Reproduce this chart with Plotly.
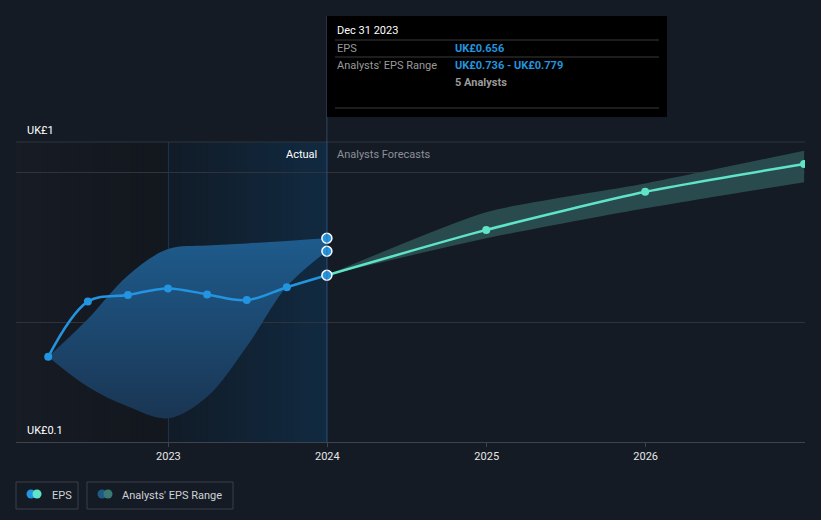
import numpy as np
import plotly.graph_objects as go

# ---------------- data ----------------
actual_dates = ["2022-03-31", "2022-06-30", "2022-09-30", "2022-12-31",
                "2023-03-31", "2023-06-30", "2023-09-30", "2023-12-31"]
actual_eps = [0.384, 0.568, 0.590, 0.612, 0.592, 0.573, 0.616, 0.656]
range_upper = [0.384, 0.510, 0.655, 0.743, 0.755, 0.762, 0.770, 0.779]
range_lower = [0.384, 0.284, 0.218, 0.179, 0.251, 0.418, 0.618, 0.736]

fc_dates = ["2023-12-31", "2024-12-31", "2025-12-31", "2026-12-31"]
fc_eps = [0.656, 0.807, 0.934, 1.027]
fc_upper = [0.656, 0.866, 0.962, 1.071]
fc_lower = [0.656, 0.779, 0.879, 0.966]

hover_date = "Dec 31 2023"
hover_eps = "UK£0.656"
hover_range = "UK£0.736 - UK£0.779"
hover_analysts = "5 Analysts"

y_labels = ["UK£1", "UK£0.1"]
x_tickvals = ["2023-01-01", "2024-01-01", "2025-01-01", "2026-01-01"]
x_ticktext = ["2023", "2024", "2025", "2026"]

# ---------------- style ----------------
W, H = 821, 520
ML, MR, MT, MB = 16, 16, 142, 78
PW, PH = W - ML - MR, H - MT - MB
BG = "#151b25"
BLUE = "#2394df"
MINT = "#5fe3c9"
GRID = "#2e343e"
FONT = "Roboto, 'Open Sans', sans-serif"


def px(x):
    return (x - ML) / PW


def py(y):
    return (H - MB - y) / PH


fig = go.Figure()

# analysts range (actual period)
fig.add_trace(go.Scatter(x=actual_dates, y=range_upper, mode="lines",
                         line=dict(width=0, shape="spline", smoothing=1.0),
                         hoverinfo="skip", showlegend=False))
fig.add_trace(go.Scatter(x=actual_dates, y=range_lower, mode="lines",
                         line=dict(width=0, shape="spline", smoothing=1.0),
                         fill="tonexty",
                         fillgradient=dict(type="vertical",
                                           colorscale=[[0, "#1a3553"], [1, "#1e5b8c"]]),
                         hoverinfo="skip", showlegend=False))
# analysts range (forecast)
fig.add_trace(go.Scatter(x=fc_dates, y=fc_upper, mode="lines",
                         line=dict(width=0, shape="spline", smoothing=0.6),
                         hoverinfo="skip", showlegend=False))
fig.add_trace(go.Scatter(x=fc_dates, y=fc_lower, mode="lines",
                         line=dict(width=0, shape="spline", smoothing=0.6),
                         fill="tonexty", fillcolor="#2a4b4d",
                         hoverinfo="skip", showlegend=False))

# EPS lines
fig.add_trace(go.Scatter(x=fc_dates, y=fc_eps, mode="lines+markers",
                         line=dict(color=MINT, width=2.5, shape="spline", smoothing=0.6),
                         marker=dict(color=MINT, size=8), showlegend=False))
fig.add_trace(go.Scatter(x=actual_dates, y=actual_eps, mode="lines+markers",
                         line=dict(color=BLUE, width=2.5, shape="spline", smoothing=1.0),
                         marker=dict(color=BLUE, size=8), showlegend=False))
# highlighted points at hover date
fig.add_trace(go.Scatter(x=[actual_dates[-1]] * 3,
                         y=[actual_eps[-1], range_lower[-1], range_upper[-1]],
                         mode="markers",
                         marker=dict(color=BLUE, size=10, line=dict(color="white", width=1.5)),
                         showlegend=False))

shapes = []
# background gradient strips
x0p, x1p, x2p = px(16), px(168), px(327)
n = 24
c_a = np.array([0x17, 0x1c, 0x25]); c_b = np.array([0x13, 0x17, 0x1e])
c_c = np.array([0x12, 0x1c, 0x28]); c_d = np.array([0x11, 0x2a, 0x41])
for i in range(n):
    t = i / (n - 1)
    c1 = (c_a + (c_b - c_a) * t).astype(int)
    c2 = (c_c + (c_d - c_c) * t).astype(int)
    shapes.append(dict(type="rect", xref="paper", yref="paper", layer="below",
                       x0=x0p + (x1p - x0p) * i / n, x1=x0p + (x1p - x0p) * (i + 1) / n + 0.001,
                       y0=0, y1=1, line=dict(width=0),
                       fillcolor="rgb(%d,%d,%d)" % tuple(c1)))
    shapes.append(dict(type="rect", xref="paper", yref="paper", layer="below",
                       x0=x1p + (x2p - x1p) * i / n, x1=x1p + (x2p - x1p) * (i + 1) / n + 0.001,
                       y0=0, y1=1, line=dict(width=0),
                       fillcolor="rgb(%d,%d,%d)" % tuple(c2)))

# top border gridline
shapes.append(dict(type="line", xref="paper", yref="paper", x0=0, x1=1, y0=1, y1=1,
                   line=dict(color=GRID, width=1), layer="below"))

# vertical markers
shapes.append(dict(type="line", xref="x", yref="paper", x0=x_tickvals[0], x1=x_tickvals[0],
                   y0=0, y1=1, line=dict(color="rgba(40,90,140,0.45)", width=1), layer="below"))
shapes.append(dict(type="line", xref="x", yref="paper", x0=actual_dates[-1], x1=actual_dates[-1],
                   y0=0, y1=py(16), line=dict(color="rgba(60,100,140,0.6)", width=1)))

# tooltip box
shapes.append(dict(type="rect", xref="paper", yref="paper",
                   x0=px(327), x1=px(667), y0=py(117), y1=py(16),
                   fillcolor="#000000", line=dict(width=0)))
for yy in (40, 57, 108):
    shapes.append(dict(type="line", xref="paper", yref="paper",
                       x0=px(335), x1=px(659), y0=py(yy), y1=py(yy),
                       line=dict(color="#3a3a3a", width=1)))

# legend boxes
for (a, b) in ((16, 78), (87, 233)):
    shapes.append(dict(type="rect", xref="paper", yref="paper",
                       x0=px(a), x1=px(b), y0=py(509), y1=py(482),
                       line=dict(color="#3a3f48", width=1), fillcolor=BG))
rx, ry = 4.5 / PW, 4.5 / PH
for cx, col in ((31, BLUE), (37, MINT), (102, "#1d5a88"), (108, "#3b7a74")):
    shapes.append(dict(type="circle", xref="paper", yref="paper",
                       x0=px(cx) - rx, x1=px(cx) + rx, y0=py(494) - ry, y1=py(494) + ry,
                       fillcolor=col, line=dict(width=0)))

ann = []


def text(x, y, s, color, size=11, anchor="left", bold=False):
    ann.append(dict(xref="paper", yref="paper", x=px(x), y=py(y), text=("<b>%s</b>" % s) if bold else s,
                    showarrow=False, xanchor=anchor, yanchor="middle",
                    font=dict(color=color, size=size, family=FONT)))


text(335, 31, hover_date, "#ffffff", 11)
text(335, 49, "EPS", "#9a9a9a")
text(453, 49, hover_eps, BLUE, bold=True)
text(335, 66, "Analysts' EPS Range", "#9a9a9a")
text(453, 66, hover_range, BLUE, bold=True)
text(453, 83, hover_analysts, "#9a9a9a", bold=True)

text(25, 130, y_labels[0], "#ffffff")
text(25, 430, y_labels[1], "#ffffff")
text(319, 154, "Actual", "#ffffff", anchor="right")
text(335, 154, "Analysts Forecasts", "#8c9098")

text(50, 495, "EPS", "#cfd2d6")
text(120, 495, "Analysts' EPS Range", "#cfd2d6")

fig.update_layout(
    width=W, height=H, margin=dict(l=ML, r=MR, t=MT, b=MB),
    paper_bgcolor=BG, plot_bgcolor=BG,
    shapes=shapes, annotations=ann, showlegend=False,
    font=dict(family=FONT, color="#e0e0e0", size=11),
    xaxis=dict(type="date", range=["2022-01-16", "2027-01-02"],
               tickvals=x_tickvals, ticktext=x_ticktext,
               showgrid=False, zeroline=False, showline=True, linecolor="#3e434c", linewidth=1,
               ticks="outside", ticklen=4, tickcolor="#3e434c",
               tickfont=dict(color="#e6e6e6", size=11, family=FONT)),
    yaxis=dict(range=[0.1, 1.1], tickvals=[0.5, 1.0], showticklabels=False,
               showgrid=True, gridcolor=GRID, gridwidth=1, zeroline=False),
    hovermode=False,
)

fig.write_html("out.html")
